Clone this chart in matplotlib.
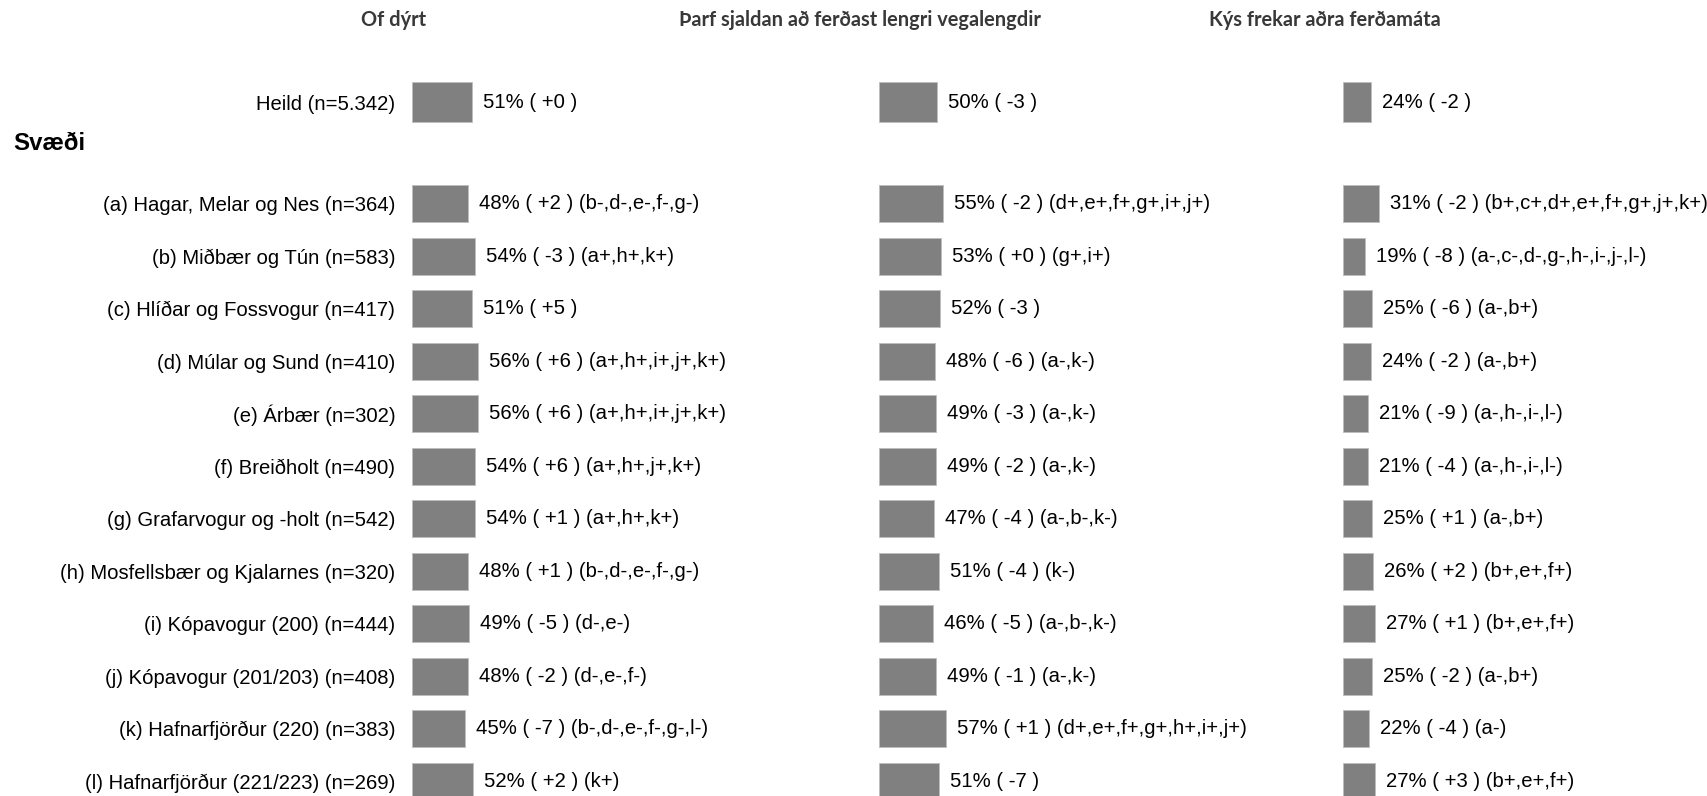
import matplotlib.pyplot as plt

labels = ["(a) Hagar, Melar og Nes (n=364)", "(b) Miðbær og Tún (n=583)",
          "(c) Hlíðar og Fossvogur (n=417)", "(d) Múlar og Sund (n=410)",
          "(e) Árbær (n=302)", "(f) Breiðholt (n=490)",
          "(g) Grafarvogur og -holt (n=542)", "(h) Mosfellsbær og Kjalarnes (n=320)",
          "(i) Kópavogur (200) (n=444)", "(j) Kópavogur (201/203) (n=408)",
          "(k) Hafnarfjörður (220) (n=383)", "(l) Hafnarfjörður (221/223) (n=269)"]
heild_label = "Heild (n=5.342)"

titles = ["Of dýrt", "Þarf sjaldan að ferðast lengri vegalengdir", "Kýs frekar aðra ferðamáta"]

heild_vals = [51, 50, 24]
heild_chg = ["+0", "-3", "-2"]

vals1 = [48, 54, 51, 56, 56, 54, 54, 48, 49, 48, 45, 52]
chg1 = ["+2", "-3", "+5", "+6", "+6", "+6", "+1", "+1", "-5", "-2", "-7", "+2"]
sig1 = ["b-,d-,e-,f-,g-", "a+,h+,k+", "", "a+,h+,i+,j+,k+", "a+,h+,i+,j+,k+",
        "a+,h+,j+,k+", "a+,h+,k+", "b-,d-,e-,f-,g-", "d-,e-", "d-,e-,f-",
        "b-,d-,e-,f-,g-,l-", "k+"]

vals2 = [55, 53, 52, 48, 49, 49, 47, 51, 46, 49, 57, 51]
chg2 = ["-2", "+0", "-3", "-6", "-3", "-2", "-4", "-4", "-5", "-1", "+1", "-7"]
sig2 = ["d+,e+,f+,g+,i+,j+", "g+,i+", "", "a-,k-", "a-,k-", "a-,k-", "a-,b-,k-",
        "k-", "a-,b-,k-", "a-,k-", "d+,e+,f+,g+,h+,i+,j+", ""]

vals3 = [31, 19, 25, 24, 21, 21, 25, 26, 27, 25, 22, 27]
chg3 = ["-2", "-8", "-6", "-2", "-9", "-4", "+1", "+2", "+1", "-2", "-4", "+3"]
sig3 = ["b+,c+,d+,e+,f+,g+,j+,k+", "a-,c-,d-,g-,h-,i-,j-,l-", "a-,b+", "a-,b+",
        "a-,h-,i-,l-", "a-,h-,i-,l-", "a-,b+", "b+,e+,f+", "b+,e+,f+", "a-,b+",
        "a-", "b+,e+,f+"]

plt.rcParams['font.family'] = ['Liberation Sans', 'DejaVu Sans']

W, H = 1708, 796
fig = plt.figure(figsize=(W / 100, H / 100), dpi=100)

slot = 52.5          # pixels per row
px_per_pct = 1.17
y_top = -1.95
ylim = (y_top + H / slot, y_top)
heild_y = 0
ypos = [1.93 + i for i in range(len(labels))]

bar_lefts = [412, 879, 1343]
ax_w = 360
columns = [(vals1, chg1, sig1), (vals2, chg2, sig2), (vals3, chg3, sig3)]
fs = 14.6

for k, (vals, chg, sig) in enumerate(columns):
    ax = fig.add_axes([bar_lefts[k] / W, 0, ax_w / W, 1])
    ax.set_xlim(0, ax_w / px_per_pct)
    ax.set_ylim(*ylim)
    ax.barh(heild_y, heild_vals[k], height=0.76, color='#808080', edgecolor='#bdbdbd', linewidth=0.6)
    ax.barh(ypos, vals, height=0.70, color='#808080', edgecolor='#bdbdbd', linewidth=0.6)
    off = 11 / px_per_pct
    ax.text(heild_vals[k] + off, heild_y, f"{heild_vals[k]}% ( {heild_chg[k]} )",
            va='center', ha='left', fontsize=fs, clip_on=False)
    for y, v, c, s in zip(ypos, vals, chg, sig):
        t = f"{v}% ( {c} )"
        if s:
            t += f" ({s})"
        ax.text(v + off, y, t, va='center', ha='left', fontsize=fs, clip_on=False)
    for sp in ax.spines.values():
        sp.set_visible(False)
    ax.set_xticks([])
    if k == 0:
        ax.set_yticks([heild_y] + ypos, [heild_label] + labels, fontsize=fs)
        ax.tick_params(axis='y', length=0, pad=12)
    else:
        ax.set_yticks([])

header_x = [394, 860, 1325]
for x, t in zip(header_x, titles):
    fig.text(x / W, 1 - 19.5 / H, t, ha='center', va='center', fontsize=14.4,
             fontweight='bold', color='#383838', family=['Lato', 'DejaVu Sans'])

fig.text(13 / W, 1 - 144 / H, "Svæði", ha='left', va='center', fontsize=17.3, fontweight='bold')

fig.savefig("out.png", dpi=100)
